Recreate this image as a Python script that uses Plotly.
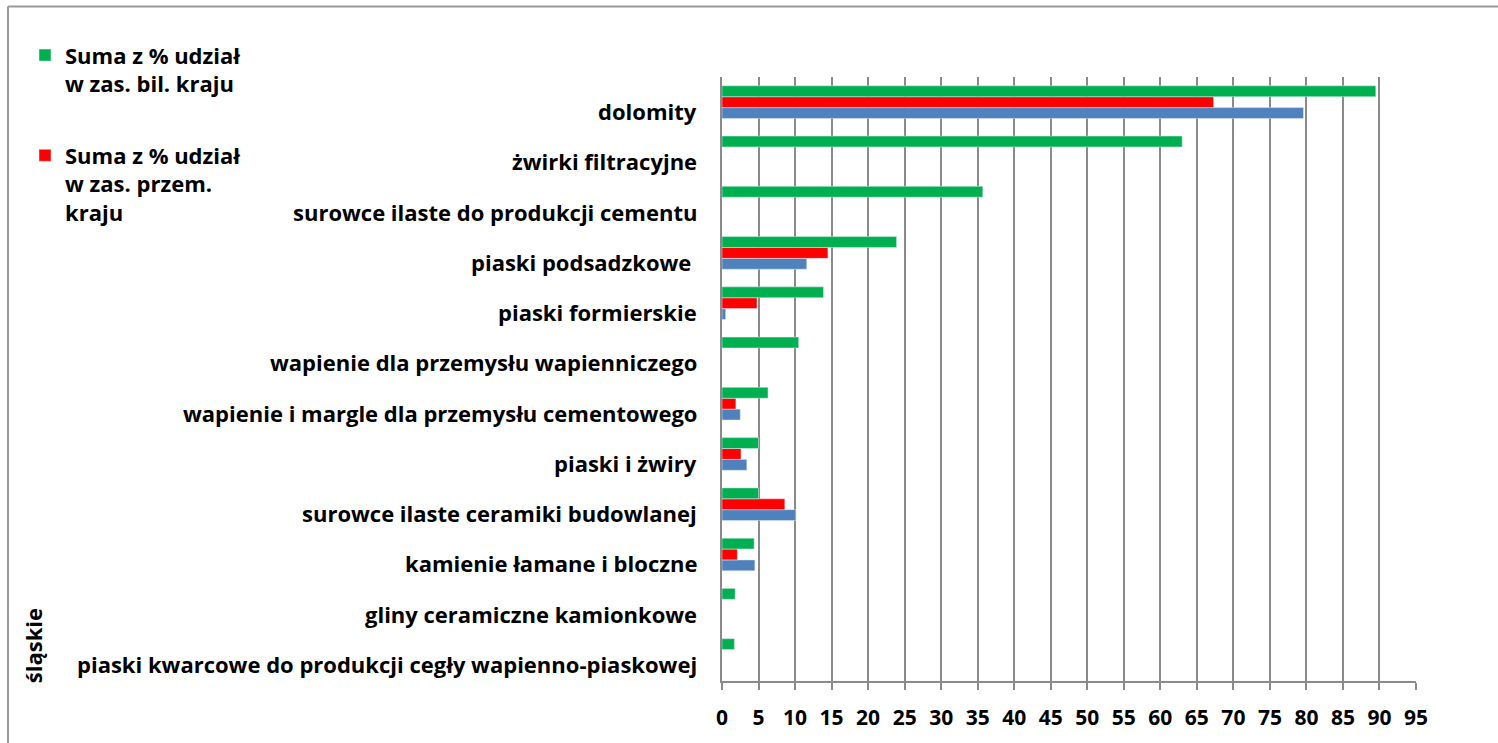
import plotly.graph_objects as go

categories = [
    "dolomity",
    "żwirki filtracyjne",
    "surowce ilaste do produkcji cementu",
    "piaski podsadzkowe ",
    "piaski formierskie",
    "wapienie dla przemysłu wapienniczego",
    "wapienie i margle dla przemysłu cementowego",
    "piaski i żwiry",
    "surowce ilaste ceramiki budowlanej",
    "kamienie łamane i bloczne",
    "gliny ceramiczne kamionkowe",
    "piaski kwarcowe do produkcji cegły wapienno-piaskowej",
]
udzial_bil = [89.5, 63.0, 35.7, 23.9, 13.9, 10.5, 6.3, 5.0, 5.0, 4.4, 1.8, 1.7]
udzial_przem = [67.3, None, None, 14.5, 4.8, None, 1.9, 2.6, 8.6, 2.1, None, None]
udzial_wyd = [79.6, None, None, 11.6, 0.5, None, 2.5, 3.4, 10.1, 4.5, None, None]
x_ticks = list(range(0, 100, 5))

W, H = 1498, 743
L, R, T, B = 722, 1416, 77, 685
FONT = "Open Sans"
GRID = "#8a8a8a"
bold = dict(family=FONT, size=22, color="black", weight="bold")

fig = go.Figure()
fig.add_trace(go.Bar(y=categories, x=udzial_wyd, orientation="h", name="Suma z % udział w wydobyciu",
                     marker_color="#4F81BD", showlegend=False, legendgroup="c"))
fig.add_trace(go.Bar(y=categories, x=udzial_przem, orientation="h",
                     name="Suma z % udział<br>w zas. przem.<br>kraju",
                     marker_color="#FF0000", legendgroup="b", legendrank=2))
fig.add_trace(go.Bar(y=categories, x=udzial_bil, orientation="h",
                     name="Suma z % udział<br>w zas. bil. kraju",
                     marker_color="#00B050", legendgroup="a", legendrank=1))


def px_x(p):
    return (p - L) / (R - L)


def px_y(p):
    return (B - p) / (B - T)


annotations = []
for c in categories:
    annotations.append(dict(x=0, xref="paper", y=c, yref="y", text=c, showarrow=False,
                            xanchor="right", xshift=-23, yshift=-9, font=bold))
annotations.append(dict(x=px_x(33), xref="paper", y=px_y(650), yref="paper", text="śląskie",
                        textangle=-90, showarrow=False, xanchor="center", yanchor="middle",
                        font=bold))

shapes = [
    dict(type="line", xref="paper", yref="paper", x0=px_x(8), x1=px_x(W + 10), y0=px_y(6),
         y1=px_y(6), line=dict(color="#9a9a9a", width=2)),
    dict(type="line", xref="paper", yref="paper", x0=px_x(8), x1=px_x(8), y0=px_y(6),
         y1=px_y(H + 10), line=dict(color="#9a9a9a", width=2)),
]

fig.update_layout(
    width=W, height=H,
    margin=dict(l=L, r=W - R, t=T, b=H - B),
    paper_bgcolor="white", plot_bgcolor="white",
    barmode="group", bargap=0.35, bargroupgap=0,
    font=dict(family=FONT, size=22, color="black"),
    legend=dict(x=px_x(25), y=px_y(34), xanchor="left", yanchor="top",
                traceorder="grouped", tracegroupgap=40, valign="top",
                font=bold, bgcolor="rgba(0,0,0,0)"),
    xaxis=dict(range=[0, 95], tickvals=x_ticks, showgrid=True, gridcolor=GRID, gridwidth=1.5,
               showline=True, linecolor=GRID, linewidth=1.5, ticks="outside", ticklen=7,
               tickcolor=GRID, tickwidth=1.5, ticklabelstandoff=10, zeroline=False,
               tickfont=dict(family=FONT, size=21, color="black", weight="bold")),
    yaxis=dict(categoryorder="array", categoryarray=categories[::-1], showticklabels=False,
               showline=True, linecolor=GRID, linewidth=1.5, showgrid=False, ticks=""),
    annotations=annotations,
    shapes=shapes,
)

# drop the default page margin so the figure sits at the window's corner
fig.write_html("out.html", config={"displayModeBar": False},
               post_script="document.body.style.margin='0';document.body.style.overflow='hidden';")
